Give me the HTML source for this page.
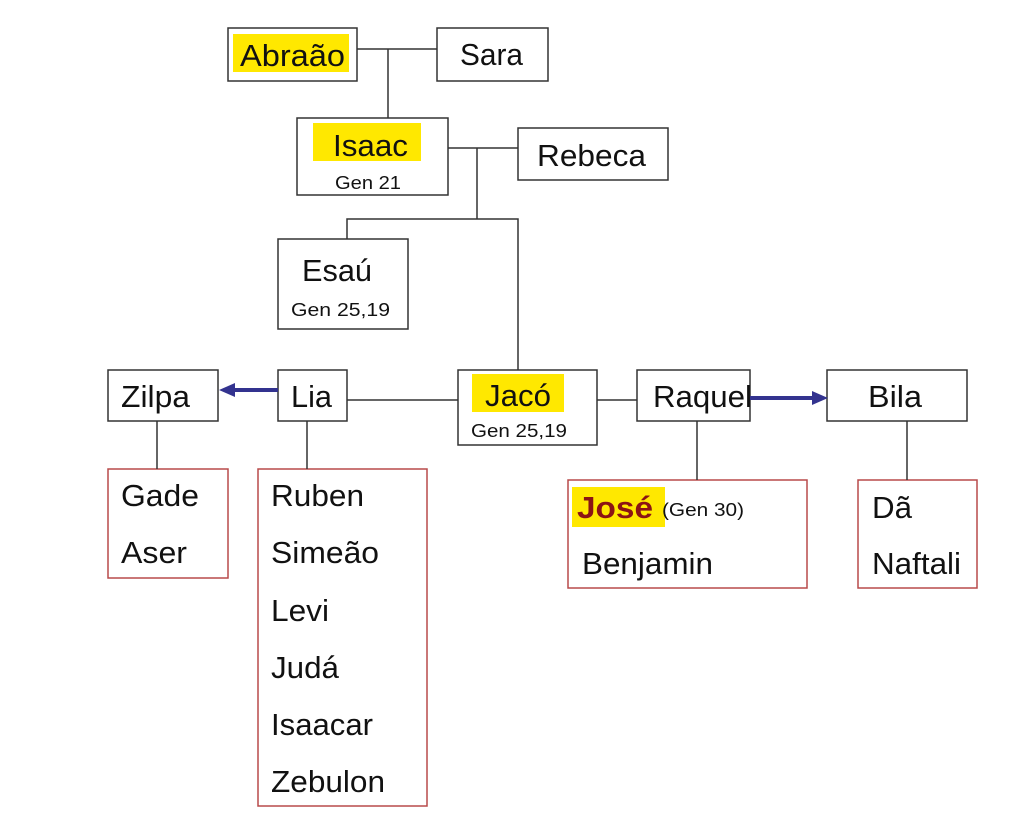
<!DOCTYPE html>
<html><head><meta charset="utf-8"><style>html,body{margin:0;padding:0;background:#fff}svg{display:block}text{font-family:"Liberation Sans",Arial,sans-serif;fill:#111}</style></head><body>
<svg width="1024" height="826" viewBox="0 0 1024 826" xmlns="http://www.w3.org/2000/svg">
<g fill="#fff" stroke="#333" stroke-width="1.5">
<rect x="228" y="28" width="129" height="53"/>
<rect x="437" y="28" width="111" height="53"/>
<rect x="297" y="118" width="151" height="77"/>
<rect x="518" y="128" width="150" height="52"/>
<rect x="278" y="239" width="130" height="90"/>
<rect x="108" y="370" width="110" height="51"/>
<rect x="278" y="370" width="69" height="51"/>
<rect x="458" y="370" width="139" height="75"/>
<rect x="637" y="370" width="113" height="51"/>
<rect x="827" y="370" width="140" height="51"/>
</g>
<g fill="#fff" stroke="#b84a4a" stroke-width="1.5">
<rect x="108" y="469" width="120" height="109"/>
<rect x="258" y="469" width="169" height="337"/>
<rect x="568" y="480" width="239" height="108"/>
<rect x="858" y="480" width="119" height="108"/>
</g>
<g stroke="#333" stroke-width="1.5" fill="none">
<path d="M357 49H437M388 49V118M448 148H518M477 148V219M347 239V219H518V370M347 400H458M597 400H637M157 421V469M307 421V469M697 421V480M907 421V480"/>
</g>
<g stroke="#33338f" stroke-width="4"><path d="M278 390H232"/><path d="M750 398H814"/></g>
<g fill="#33338f"><path d="M219 390L235 383V397Z"/><path d="M828 398L812 391V405Z"/></g>
<g fill="#ffe800">
<rect x="233" y="34" width="116" height="38"/>
<rect x="313" y="123" width="108" height="38"/>
<rect x="472" y="374" width="92" height="38"/>
<rect x="572" y="487" width="93" height="40"/>
</g>
<g font-size="31" lengthAdjust="spacingAndGlyphs">
<text x="240" y="66" textLength="105" lengthAdjust="spacingAndGlyphs">Abraão</text>
<text x="460" y="65" textLength="63" lengthAdjust="spacingAndGlyphs">Sara</text>
<text x="333" y="156" textLength="75" lengthAdjust="spacingAndGlyphs">Isaac</text>
<text x="537" y="166" textLength="109" lengthAdjust="spacingAndGlyphs">Rebeca</text>
<text x="302" y="281" textLength="70" lengthAdjust="spacingAndGlyphs">Esaú</text>
<text x="121" y="407" textLength="69" lengthAdjust="spacingAndGlyphs">Zilpa</text>
<text x="291" y="407" textLength="41" lengthAdjust="spacingAndGlyphs">Lia</text>
<text x="485" y="406" textLength="66" lengthAdjust="spacingAndGlyphs">Jacó</text>
<text x="653" y="407" textLength="99" lengthAdjust="spacingAndGlyphs">Raquel</text>
<text x="868" y="407" textLength="54" lengthAdjust="spacingAndGlyphs">Bila</text>
<text x="121" y="506" textLength="78" lengthAdjust="spacingAndGlyphs">Gade</text>
<text x="121" y="563" textLength="66" lengthAdjust="spacingAndGlyphs">Aser</text>
<text x="271" y="506" textLength="93" lengthAdjust="spacingAndGlyphs">Ruben</text>
<text x="271" y="563" textLength="108" lengthAdjust="spacingAndGlyphs">Simeão</text>
<text x="271" y="621" textLength="58" lengthAdjust="spacingAndGlyphs">Levi</text>
<text x="271" y="678" textLength="68" lengthAdjust="spacingAndGlyphs">Judá</text>
<text x="271" y="735" textLength="102" lengthAdjust="spacingAndGlyphs">Isaacar</text>
<text x="271" y="792" textLength="114" lengthAdjust="spacingAndGlyphs">Zebulon</text>
<text x="582" y="574" textLength="131" lengthAdjust="spacingAndGlyphs">Benjamin</text>
<text x="872" y="518" textLength="40" lengthAdjust="spacingAndGlyphs">Dã</text>
<text x="872" y="574" textLength="89" lengthAdjust="spacingAndGlyphs">Naftali</text>
<text x="577" y="518" font-weight="bold" style="fill:#8b1414" textLength="76" lengthAdjust="spacingAndGlyphs">José</text>
</g>
<g font-size="18" fill="#333">
<text x="335" y="189" textLength="66" lengthAdjust="spacingAndGlyphs">Gen 21</text>
<text x="291" y="316" textLength="99" lengthAdjust="spacingAndGlyphs">Gen 25,19</text>
<text x="471" y="437" textLength="96" lengthAdjust="spacingAndGlyphs">Gen 25,19</text>
<text x="662" y="516" textLength="82" lengthAdjust="spacingAndGlyphs">(Gen 30)</text>
</g>
</svg>
</body></html>
